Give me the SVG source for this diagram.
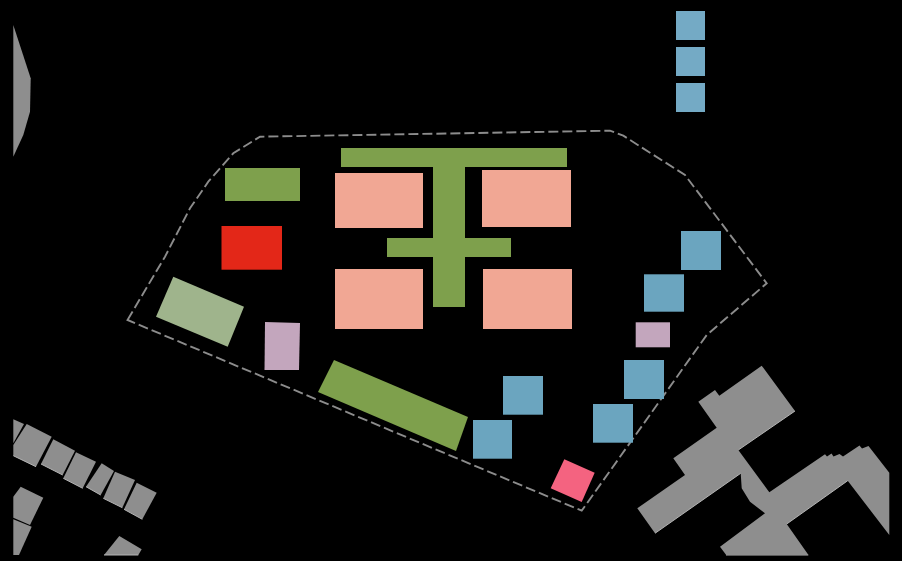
<svg xmlns="http://www.w3.org/2000/svg" width="902" height="561" viewBox="0 0 902 561">
<style>
.g{fill:#8e8e8e}
.e{fill:none;stroke:#b4b4b4;stroke-width:1}
.b{fill:#6ba5bf}
.l{fill:#74aac5}
.s{fill:#f1a794}
.v{fill:#7ea04c}
.p{fill:#c3a6bd}
</style>
<rect id="background" width="902" height="561" fill="#000"/>
<g id="surroundings">
<polygon class="g" points="13.3,25 30.7,78.3 30,111.7 23.3,135 13.3,156.7"/>
<polygon class="g" points="13.3,419.3 24,424 13.3,443.3"/>
<polygon class="g" points="26.7,424 51.7,436.7 36,466.7 13.3,455.7 13.3,445"/>
<polygon class="g" points="53.3,439.3 75,450.7 62.7,475 41,464"/>
<polygon class="g" points="76,452.3 96,461.7 82.7,488.3 63.3,478.3"/>
<polygon class="g" points="101.7,463.3 114,471 100.7,495 86,486.7"/>
<polygon class="g" points="115,471.7 135,480 122.3,507.7 103.3,498.3"/>
<polygon class="g" points="136.7,482.7 156.7,492.7 142.3,519.3 124,509.3"/>
<polygon class="g" points="20.7,486.7 43.3,497.7 30,525 13.3,517.7 13.3,496.7"/>
<polygon class="g" points="13.3,519.3 31.7,526.7 19,555 13.3,555"/>
<polygon class="g" points="119.3,536 141.7,549.3 138.3,555 104,555"/>
<polygon class="g" points="761.7,365.7 795,411 738.3,450 769.3,492.3 825,454.3 827,456.5 831.5,453.5 833.5,456.5 839.5,454 843,456.5 859.5,445.5 862,448.5 868.5,446 889.3,472.7 889.3,535 847.7,480.7 786.7,524 808.3,554.7 726,554.7 720,546.7 765,513.3 750,501.7 741.7,488.3 740.7,473.3 655,533.3 637.3,508.3 685,475 673.3,458.3 716.7,427.7 698.3,401.7 715,390 719.3,395.7"/>
<path class="e" d="M795,411L738.3,450M740.7,473.3L655,533.3M847.7,480.7L786.7,524M808.3,555L726,555M13.3,455.7L36,466.7M41,464L62.7,475M63.3,478.3L82.7,488.3M86,486.7L100.7,495M103.3,498.3L122.3,507.7M124,509.3L142.3,519.3M104,555L138.3,555"/>
</g>
<g id="connectors">
<path fill="none" stroke="#8c8c8c" stroke-width="1.9" stroke-dasharray="10 4" d="M127.5,320L165,256.7L190,208.3L208.3,181.7L233.3,153.3L260,136.7L610,130.7L623.3,135.7L685,175L766.7,283.3L706.7,335L581.7,510.7Z"/>
</g>
<g id="legend">
<rect class="l" x="676" y="11" width="29" height="29"/>
<rect class="l" x="676" y="47" width="29" height="29"/>
<rect class="l" x="676" y="83" width="29" height="29"/>
</g>
<g id="green-areas">
<rect class="v" x="341" y="148" width="226" height="19"/>
<rect class="v" x="225" y="168" width="75" height="33"/>
<path class="v" d="M433,167H465V238H511V257H465V307H433V257H387V238H433Z"/>
<polygon class="v" points="334,360 468,417 456,451 318,392"/>
</g>
<g id="light-green-block"><polygon fill="#9fb48c" points="173.3,276.7 244,306.7 227.7,346.7 156,316.7"/></g>
<g id="red-block"><rect fill="#e32718" x="221.5" y="226" width="60.5" height="43.7"/></g>
<g id="salmon-blocks">
<rect class="s" x="335" y="173" width="88" height="55"/>
<rect class="s" x="482" y="170" width="89" height="57"/>
<rect class="s" x="335" y="269" width="88" height="60"/>
<rect class="s" x="483" y="269" width="89" height="60"/>
</g>
<g id="purple-blocks">
<polygon class="p" points="265,322 300,323 299,370 264.5,370"/>
<rect class="p" x="635.7" y="322.3" width="34.3" height="25"/>
</g>
<g id="blue-blocks">
<rect class="b" x="681" y="231" width="40" height="39"/>
<rect class="b" x="644" y="274.3" width="40" height="37.4"/>
<rect class="b" x="624" y="360" width="40" height="39"/>
<rect class="b" x="593" y="404" width="40" height="38.7"/>
<rect class="b" x="503" y="376" width="40" height="38.7"/>
<rect class="b" x="473" y="420" width="39" height="38.7"/>
</g>
<g id="pink-block"><polygon fill="#f46380" points="564.3,459.3 594.7,472.7 581.7,502 550.7,488.3"/></g>
</svg>
